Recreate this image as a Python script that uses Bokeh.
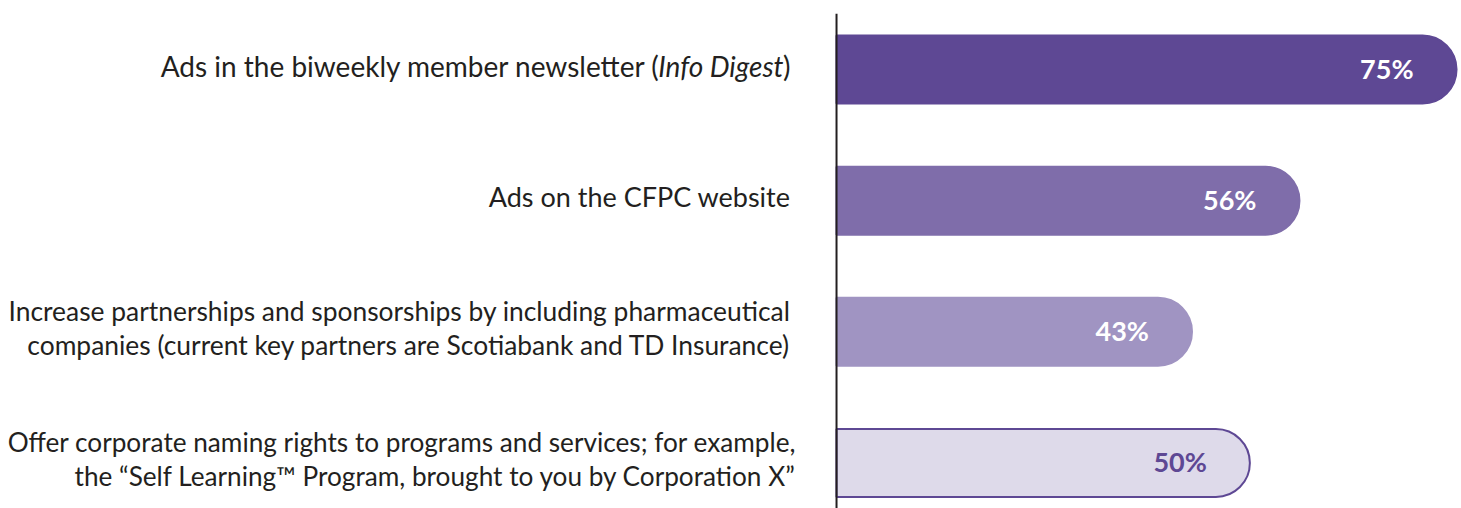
from bokeh.plotting import figure
from bokeh.models import ColumnDataSource, Range1d, Span
from bokeh.core.properties import value
from bokeh.embed import file_html
from bokeh.resources import INLINE

# ---- data ----
categories = [
    "Ads in the biweekly member newsletter (Info Digest)",
    "Ads on the CFPC website",
    "Increase partnerships and sponsorships by including pharmaceutical\ncompanies (current key partners are Scotiabank and TD Insurance)",
    "Offer corporate naming rights to programs and services; for example,\nthe \u201cSelf Learning\u2122 Program, brought to you by Corporation X\u201d",
]
italic_part = "Info Digest"
values = [75, 56, 43, 50]
value_labels = ["75%", "56%", "43%", "50%"]

fill_colors = ["#5e4894", "#7f6daa", "#a094c2", "#dedaea"]
line_colors = ["#5e4894", "#7f6daa", "#a094c2", "#5e4894"]
pct_colors = ["#ffffff", "#ffffff", "#ffffff", "#5e4894"]

n = len(categories)
ypos = [n - 1 - i for i in range(n)]

src = ColumnDataSource(dict(
    y=ypos, v=values, lab=value_labels, fill=fill_colors, line=line_colors, pc=pct_colors,
))

FONT = "Lato"
p = figure(width=1461, height=508, output_backend="svg", toolbar_location=None,
           x_range=Range1d(-101.13, 75.6), y_range=Range1d(-0.347, 3.427),
           min_border_left=0, min_border_right=0, min_border_top=13, min_border_bottom=0)
p.axis.visible = False
p.grid.visible = False
p.outline_line_color = None
p.background_fill_color = "white"

p.hbar(y="y", left=0, right="v", height=0.518, source=src,
       fill_color="fill", line_color="line", line_width=2,
       border_radius=dict(top_left=0, top_right=34, bottom_right=34, bottom_left=0))

p.add_layout(Span(location=0, dimension="height", line_color="#231f20", line_width=2))

p.text(x="v", y="y", text="lab", source=src, text_color="pc",
       text_font=value(FONT), text_font_style="bold", text_font_size="27px",
       text_align="right", text_baseline="middle", x_offset=-43, y_offset=-1)

# category labels
TXT = "#231f20"
LAB_OFF = -46
for i, cat in enumerate(categories):
    y = ypos[i]
    if italic_part in cat:
        size = "28px"
        pre, post = cat.split(italic_part)
        w_post = 7
        w_ital = 123
        p.text(x=[0], y=[y], text=[post], text_font=value(FONT), text_font_size=size,
               text_color=TXT, text_align="right", text_baseline="middle",
               x_offset=LAB_OFF, y_offset=-4)
        p.text(x=[0], y=[y], text=[italic_part], text_font=value(FONT), text_font_size=size,
               text_font_style="italic", text_color=TXT, text_align="right",
               text_baseline="middle", x_offset=LAB_OFF - w_post, y_offset=-4)
        p.text(x=[0], y=[y], text=[pre], text_font=value(FONT), text_font_size=size,
               text_color=TXT, text_align="right", text_baseline="middle",
               x_offset=LAB_OFF - w_post - w_ital, y_offset=-4)
    elif "\n" in cat:
        big = cat.startswith("Increase")
        p.text(x=[0], y=[y], text=[cat], text_font=value(FONT),
               text_font_size="26.4px" if big else "26.2px",
               text_color=TXT, text_align="right", text_baseline="middle",
               x_offset=LAB_OFF + (0 if big else 6), y_offset=-4, text_line_height=1.07)
    else:
        p.text(x=[0], y=[y], text=[cat], text_font=value(FONT), text_font_size="27px",
               text_color=TXT, text_align="right", text_baseline="middle",
               x_offset=LAB_OFF, y_offset=-4)

open("out.html", "w").write(file_html(p, INLINE))
